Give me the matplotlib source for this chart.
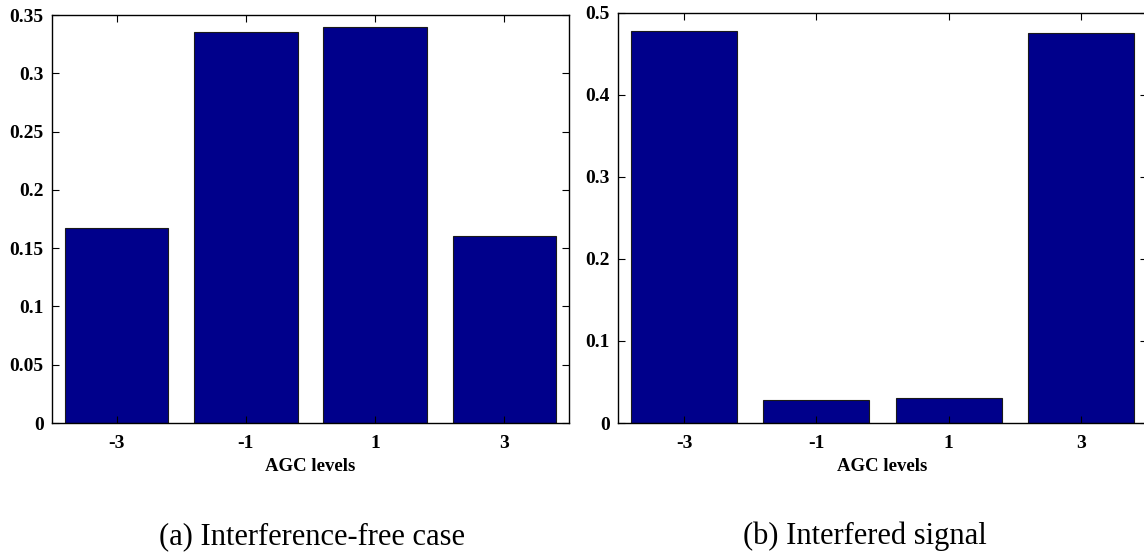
import matplotlib
matplotlib.use("Agg")
import matplotlib.pyplot as plt

# AGC level histograms
levels = ["-3", "-1", "1", "3"]
clean_probs = [0.167, 0.335, 0.340, 0.1605]
interfered_probs = [0.477, 0.028, 0.030, 0.4746]
clean_yticks = [0, 0.05, 0.1, 0.15, 0.2, 0.25, 0.3, 0.35]
clean_yticklabels = ["0", "0.05", "0.1", "0.15", "0.2", "0.25", "0.3", "0.35"]
interf_yticks = [0, 0.1, 0.2, 0.3, 0.4, 0.5]
interf_yticklabels = ["0", "0.1", "0.2", "0.3", "0.4", "0.5"]
captions = ["(a) Interference-free case", "(b) Interfered signal"]

plt.rcParams["font.family"] = ["Liberation Serif", "DejaVu Serif"]

W, H = 1144, 553
fig = plt.figure(figsize=(W / 100, H / 100), dpi=100)

ax1 = fig.add_axes([52 / W, (H - 423) / H, 517 / W, 408 / H])
ax2 = fig.add_axes([618 / W, (H - 423) / H, 529 / W, 410.5 / H])

bar_color = "#00008B"


def draw(ax, vals, yticks, yticklabels, ymax):
    pos = list(range(1, len(levels) + 1))
    ax.bar(pos, vals, width=0.8, color=bar_color, edgecolor="#1a1a1a",
           linewidth=0.8)
    ax.set_xlim(0.5, len(levels) + 0.5)
    ax.set_ylim(0, ymax)
    ax.set_xticks(pos)
    ax.set_xticklabels(levels, fontsize=14, fontweight="bold")
    ax.set_yticks(yticks)
    ax.set_yticklabels(yticklabels, fontsize=14, fontweight="bold")
    ax.set_xlabel("AGC levels", fontsize=13.5, fontweight="bold", labelpad=4)
    ax.tick_params(direction="in", length=5, width=0.8, top=True,
                   right=True)
    ax.tick_params(axis="x", pad=9)
    ax.tick_params(axis="y", pad=6)
    for s in ax.spines.values():
        s.set_linewidth(1.0)


draw(ax1, clean_probs, clean_yticks, clean_yticklabels, 0.35)
draw(ax2, interfered_probs, interf_yticks, interf_yticklabels, 0.5)

fig.text(312 / W, 1 - 544 / H, captions[0], ha="center", va="baseline",
         fontsize=22)
fig.text(865 / W, 1 - 544 / H, captions[1], ha="center", va="baseline",
         fontsize=22)

fig.savefig("out.png", dpi=100)
